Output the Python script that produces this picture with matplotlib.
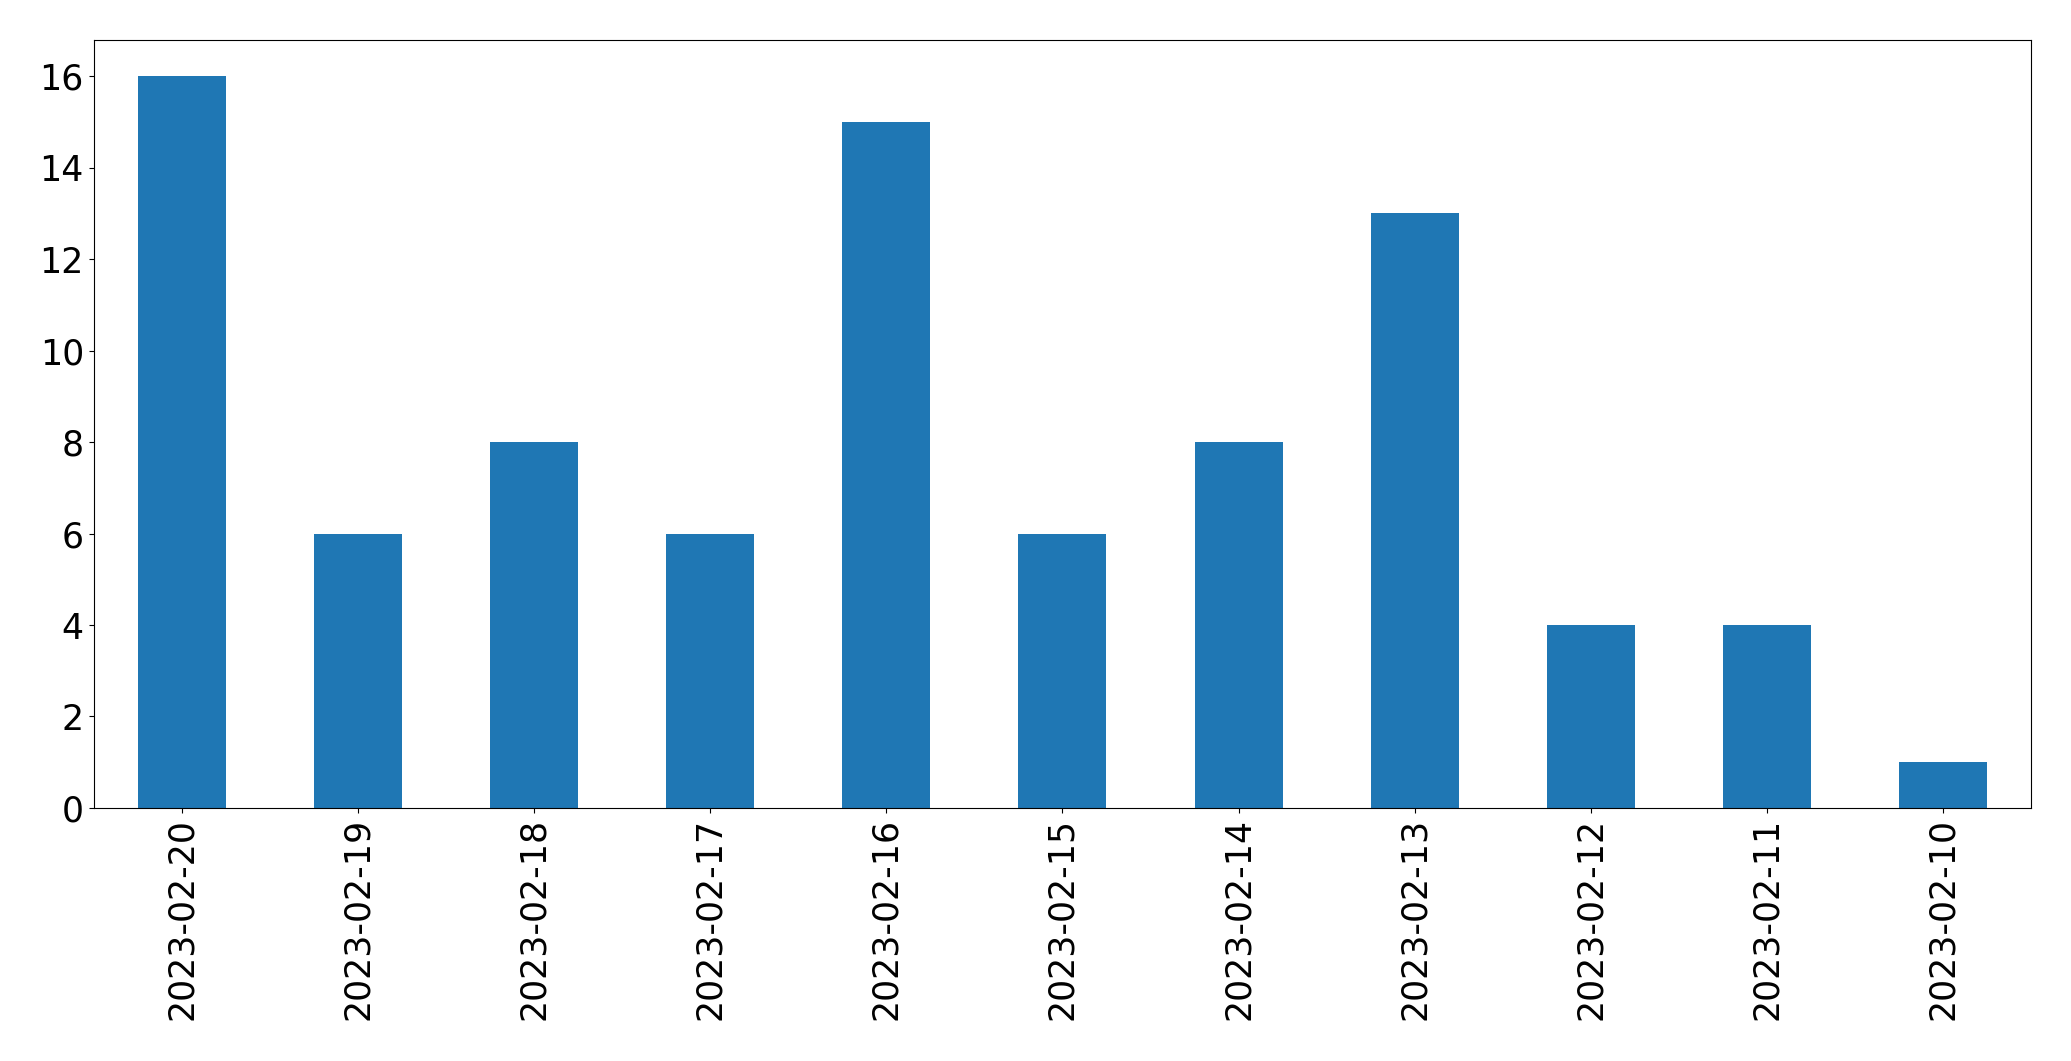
import matplotlib
matplotlib.use("Agg")
import matplotlib.pyplot as plt

dates = ["2023-02-20", "2023-02-19", "2023-02-18", "2023-02-17", "2023-02-16",
         "2023-02-15", "2023-02-14", "2023-02-13", "2023-02-12", "2023-02-11", "2023-02-10"]
counts = [16, 6, 8, 6, 15, 6, 8, 13, 4, 4, 1]

fig = plt.figure(figsize=(20.71, 10.61), dpi=100)
ax = fig.add_axes([0.0452, 0.2385, 0.9356, 0.7242])
x = list(range(len(dates)))
ax.bar(x, counts, width=0.5, color="#1f77b4")
ax.set_xticks(x)
ax.set_xticklabels(dates, rotation=90)
ax.set_xlim(-0.5, len(dates) - 0.5)
ax.set_ylim(0, 16.8)
ax.tick_params(axis="both", labelsize=25)
fig.savefig("out.png", dpi=100)
